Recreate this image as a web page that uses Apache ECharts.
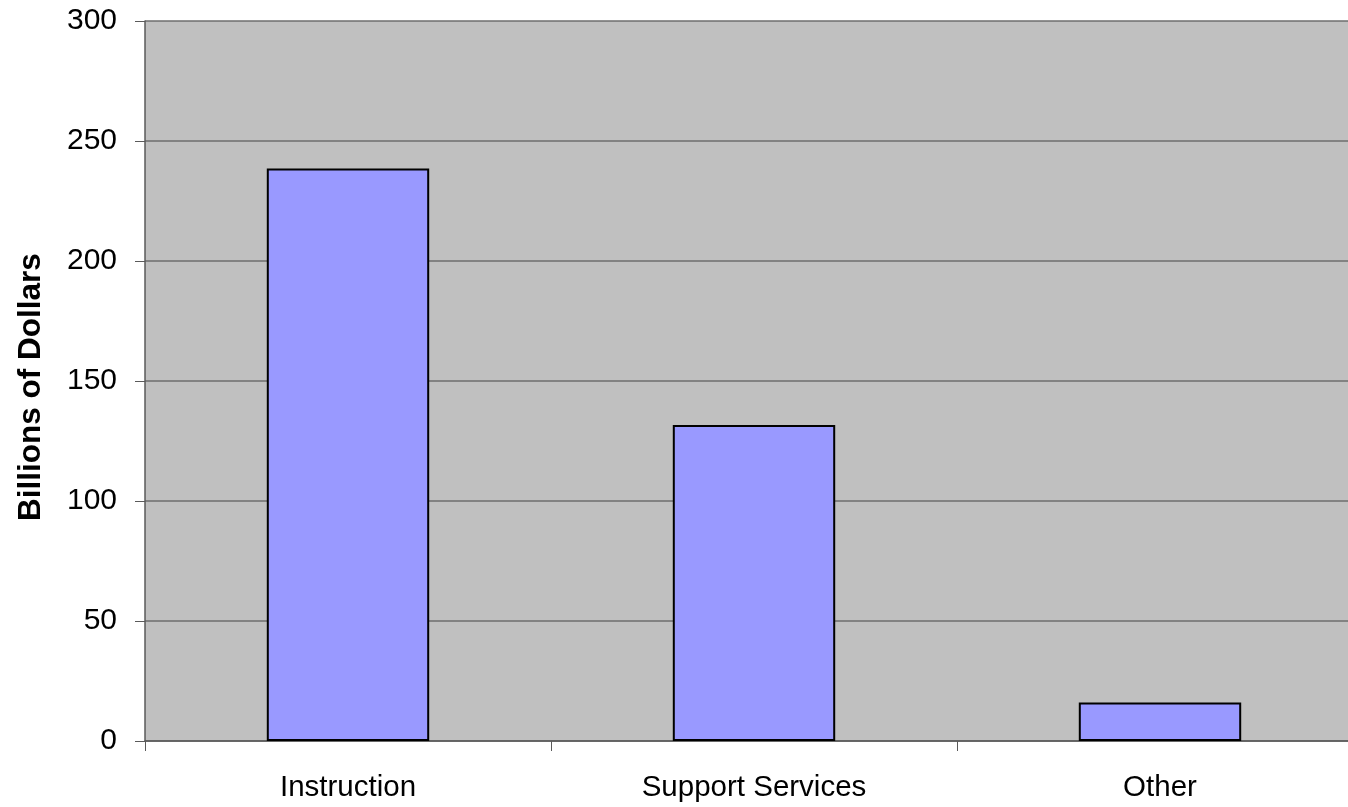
<!DOCTYPE html>
<html>
<head>
<meta charset="utf-8">
<script src="https://cdn.jsdelivr.net/npm/echarts@6/dist/echarts.min.js"></script>
<style>html,body{margin:0;padding:0;background:#fff}#c{width:1348px;height:807px}</style>
</head>
<body>
<div id="c"></div>
<script>
const categories = ['Instruction', 'Support Services', 'Other'];
const values = [238.5, 131.7, 16.0];
const yTicks = [0, 50, 100, 150, 200, 250, 300];

const chart = echarts.init(document.getElementById('c'));
chart.setOption({
  animation: false,
  textStyle: { fontFamily: 'Liberation Sans, Arial, sans-serif' },
  grid: { left: 145, top: 21, width: 1218, height: 720, show: true, backgroundColor: '#c0c0c0', borderWidth: 0, containLabel: false, outerBoundsMode: 'none' },
  xAxis: {
    type: 'category',
    data: categories,
    axisLine: { show: true, lineStyle: { color: '#5a5a5a', width: 1.5 } },
    axisTick: { show: true, length: 10, lineStyle: { color: '#5a5a5a' } },
    axisLabel: { color: '#000', fontSize: 29.5, margin: 32, fontFamily: 'Liberation Sans' }
  },
  yAxis: {
    type: 'value',
    min: yTicks[0],
    max: yTicks[yTicks.length - 1],
    interval: 50,
    name: 'Billions of Dollars',
    nameLocation: 'middle',
    nameGap: 98,
    nameTextStyle: { color: '#000', fontSize: 31.5, fontWeight: 'bold', fontFamily: 'Liberation Sans', padding: [0, 12, 0, 0] },
    axisLine: { show: true, lineStyle: { color: '#5a5a5a', width: 1.5 } },
    axisTick: { show: true, length: 10, lineStyle: { color: '#5a5a5a' } },
    axisLabel: { color: '#000', fontSize: 30, margin: 28, fontFamily: 'Liberation Sans' },
    splitLine: { show: true, lineStyle: { color: '#6e6e6e', width: 1.5 } }
  },
  series: [{
    type: 'bar',
    data: values,
    barWidth: '40%',
    itemStyle: { color: '#9999ff', borderColor: '#000', borderWidth: 2 }
  }]
});
</script>
</body>
</html>
